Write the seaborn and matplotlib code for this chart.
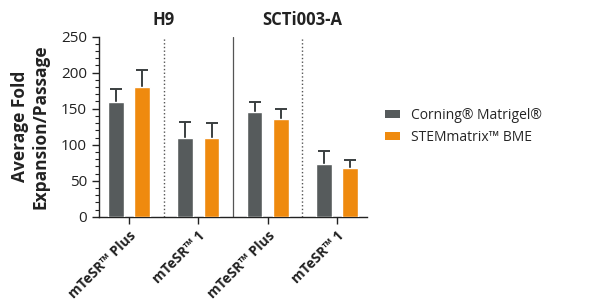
import matplotlib
matplotlib.use('Agg')
import matplotlib.pyplot as plt
from matplotlib.ticker import MultipleLocator
from matplotlib.patches import Patch
import numpy as np
import pandas as pd
import seaborn as sns

# data
media = ['mTeSR™ Plus', 'mTeSR™ 1', 'mTeSR™ Plus ', 'mTeSR™ 1 ']
tick_labels = ['mTeSR™ Plus', 'mTeSR™ 1', 'mTeSR™ Plus', 'mTeSR™ 1']
cell_lines = ['H9', 'SCTi003-A']
matrices = ['Corning® Matrigel®', 'STEMmatrix™ BME']
matrigel_mean = [159, 110, 145, 73]
matrigel_err = [18, 21, 14, 19]
stemmatrix_mean = [180, 109, 136, 68]
stemmatrix_err = [24, 21, 13, 11]

colors = ['#565b5c', '#ef8a0e']

sns.set_style('ticks')
plt.rcParams['font.family'] = ['Open Sans', 'DejaVu Sans']

df = pd.DataFrame({
    'medium': media * 2,
    'matrix': [matrices[0]] * 4 + [matrices[1]] * 4,
    'value': matrigel_mean + stemmatrix_mean,
    'err': matrigel_err + stemmatrix_err,
})

fig = plt.figure(figsize=(6.1, 3.05), dpi=100)
ax = fig.add_axes([0.162, 0.289, 0.44, 0.591])

sns.barplot(data=df, x='medium', y='value', hue='matrix', order=media,
            hue_order=matrices, palette=colors, width=0.76, gap=0.4,
            saturation=1, errorbar=None, legend=False, ax=ax, zorder=3)

# upper-only error bars: stem from the bar top plus a single cap
err_col = '#3a3f40'
for cont, errs in zip(ax.containers, [matrigel_err, stemmatrix_err]):
    for bar, e in zip(cont, errs):
        xc = bar.get_x() + bar.get_width() / 2
        top = bar.get_height()
        ax.vlines(xc, top, top + e, color=err_col, linewidth=1.4, zorder=2)
        ax.plot([xc], [top + e], marker='_', markersize=8, markeredgewidth=1.4,
                color=err_col, zorder=2)

ax.set_xlim(-0.435, 3.435)
ax.set_ylim(0, 250)
ax.yaxis.set_major_locator(MultipleLocator(50))
ax.yaxis.set_minor_locator(MultipleLocator(10))
ax.tick_params(axis='y', which='major', length=5, width=1, labelsize=11, colors='#222222')
ax.tick_params(axis='y', which='minor', length=3, width=0.8, colors='#222222')
ax.tick_params(axis='x', length=5, width=1, colors='#222222')
ax.set_xticks(range(4))
ax.set_xticklabels(tick_labels, rotation=45, ha='right', rotation_mode='anchor',
                   fontsize=10, fontweight='bold')
for s in ['left', 'bottom']:
    ax.spines[s].set_color('#222222')
    ax.spines[s].set_linewidth(1)
sns.despine(ax=ax)

ax.set_xlabel('')
ax.set_ylabel('Average Fold\nExpansion/Passage', fontsize=12.5, fontweight='bold',
              color='#222222', labelpad=8)

# group dividers
ax.axvline(0.5, color='#555555', linestyle=':', linewidth=1, zorder=1)
ax.axvline(1.5, color='#555555', linestyle='-', linewidth=0.9, zorder=1)
ax.axvline(2.5, color='#555555', linestyle=':', linewidth=1, zorder=1)

for xpos, name in zip([0.5, 2.5], cell_lines):
    ax.text(xpos, 1.04, name, transform=ax.get_xaxis_transform(), ha='center',
            va='bottom', fontsize=12, fontweight='bold', color='#222222')

handles = [Patch(facecolor=c, edgecolor='none') for c in colors]
fig.legend(handles, matrices, loc='center left', bbox_to_anchor=(0.61, 0.585),
           frameon=False, fontsize=10, handlelength=1.1, handleheight=0.45,
           handletextpad=0.8, labelspacing=0.5)

plt.savefig('out.png', dpi=100, facecolor='white')
